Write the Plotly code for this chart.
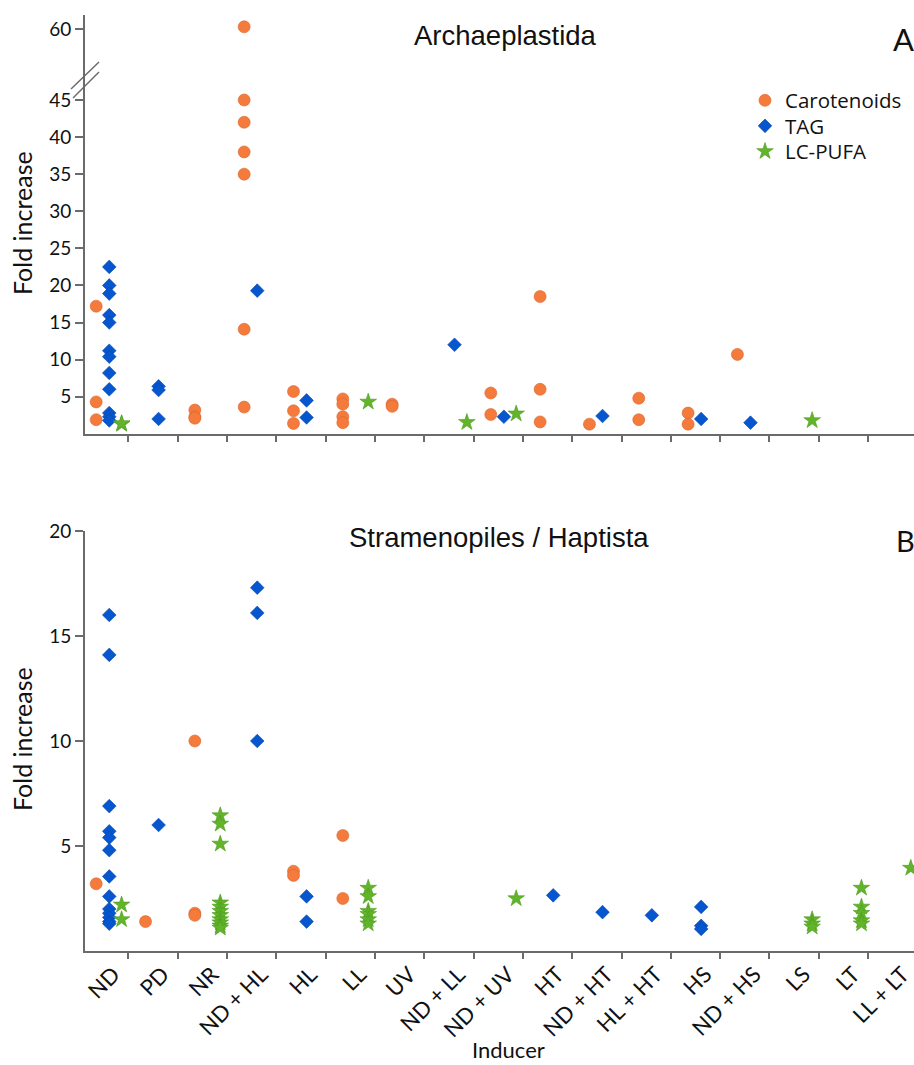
import plotly.graph_objects as go

# ---------------- data ----------------
categories = ["ND", "PD", "NR", "ND + HL", "HL", "LL", "UV", "ND + LL", "ND + UV",
              "HT", "ND + HT", "HL + HT", "HS", "ND + HS", "LS", "LT", "LL + LT"]

# Panel A: Archaeplastida (values per category, same order as categories)
a_carotenoids = [[17.2, 4.3, 1.9], [], [3.2, 2.3, 2.1], [60.5, 45.0, 42.0, 38.0, 35.0, 14.1, 3.6],
                 [5.7, 3.1, 1.4], [4.7, 4.0, 2.3, 1.5], [4.0, 3.7], [], [5.5, 2.6],
                 [18.5, 6.0, 1.6], [1.3], [4.8, 1.9], [2.8, 1.3], [10.7], [], [], []]
a_tag = [[22.5, 20.0, 18.9, 16.0, 15.0, 11.2, 10.4, 8.2, 6.0, 2.8, 2.3, 1.8], [6.4, 5.9, 2.0], [],
         [19.3], [4.5, 2.2], [], [], [12.0], [2.3], [], [2.4], [], [2.0], [1.5], [], [], []]
a_pufa = [[1.3, 1.4], [], [], [], [], [4.3], [], [1.55], [2.7], [], [], [], [], [], [1.8], [], []]

# Panel B: Stramenopiles / Haptista
b_carotenoids = [[3.2], [1.4], [10.0, 1.8, 1.7], [], [3.8, 3.6], [5.5, 2.5], [], [], [],
                 [], [], [], [], [], [], [], []]
b_tag = [[16.0, 14.1, 6.9, 5.7, 5.4, 4.8, 3.55, 2.6, 2.0, 1.8, 1.6, 1.4, 1.3], [6.0], [],
         [17.3, 16.1, 10.0], [2.6, 1.4], [], [], [], [], [2.65], [1.85], [1.7],
         [2.1, 1.2, 1.05], [], [], [], []]
b_pufa = [[2.2, 1.5], [], [6.45, 6.05, 5.1, 2.3, 2.1, 1.9, 1.7, 1.5, 1.35, 1.2, 1.1], [], [],
          [3.0, 2.6, 1.9, 1.75, 1.5, 1.3], [], [], [2.5], [], [], [], [], [],
          [1.5, 1.3, 1.15], [3.0, 2.1, 1.8, 1.45, 1.3], [3.95]]

series_names = ["Carotenoids", "TAG", "LC-PUFA"]
panel_a = [a_carotenoids, a_tag, a_pufa]
panel_b = [b_carotenoids, b_tag, b_pufa]

y_ticks_a_low = [5, 10, 15, 20, 25, 30, 35, 40, 45]
y_ticks_a_high = [60]
y_ticks_b = [5, 10, 15, 20]

# ---------------- styles ----------------
colors = {"Carotenoids": "#F57B3D", "TAG": "#0656CF", "LC-PUFA": "#62B52A"}
edges = {"Carotenoids": "#D9652A", "TAG": "#0846A8", "LC-PUFA": "#4C9A1C"}
symbols = {"Carotenoids": "circle", "TAG": "diamond", "LC-PUFA": "star"}
sizes = {"Carotenoids": 12, "TAG": 10.5, "LC-PUFA": 12.5}
offsets = {"Carotenoids": -0.15, "TAG": 0.115, "LC-PUFA": 0.365}
legend_ids = {"Carotenoids": "legend", "TAG": "legend2", "LC-PUFA": "legend3"}
legend_rows_px = {"Carotenoids": 100.5, "TAG": 126.0, "LC-PUFA": 151.5}

LOW_MAX = 45.7
HIGH_MIN = 46.1
HIGH_MAX = 63.0
X_RANGE = [-0.377, 16.43]
LABEL_SHIFT = 0.2   # rotated labels end a little right of the category centre

FONT = "Lato, 'Open Sans', sans-serif"
LEGEND_FONT = "'Open Sans', Lato, sans-serif"
TITLE_FONT = "Liberation Sans, Arial, sans-serif"
AXIS_COL = "#6B6B6B"

FIG_W, FIG_H = 914, 1065
PLOT_L, PLOT_R = 85.0, 914.0
PLOT_T, PLOT_B = 15.0, 951.0
PW, PH = PLOT_R - PLOT_L, PLOT_B - PLOT_T


def px_x(p):
    return (p - PLOT_L) / PW


def px_y(p):
    return (PLOT_B - p) / PH


def flatten(groups, offset, keep=lambda v: True):
    xs, ys = [], []
    for i, vals in enumerate(groups):
        for v in vals:
            if keep(v):
                xs.append(i + offset)
                ys.append(v)
    return xs, ys


def marker(name):
    return dict(symbol=symbols[name], size=sizes[name], color=colors[name],
                line=dict(width=0.6, color=edges[name]))


fig = go.Figure()

# Panel A, lower segment (legend shown here)
for name, groups in zip(series_names, panel_a):
    xs, ys = flatten(groups, offsets[name], lambda v: v <= LOW_MAX)
    fig.add_trace(go.Scatter(x=xs, y=ys, mode="markers", name=name, marker=marker(name),
                             xaxis="x", yaxis="y", cliponaxis=False, showlegend=True,
                             legend=legend_ids[name]))
# Panel A, upper segment (above the axis break)
for name, groups in zip(series_names, panel_a):
    xs, ys = flatten(groups, offsets[name], lambda v: v > LOW_MAX)
    if xs:
        fig.add_trace(go.Scatter(x=xs, y=ys, mode="markers", name=name, marker=marker(name),
                                 xaxis="x", yaxis="y3", cliponaxis=False, showlegend=False))
# Panel B
for name, groups in zip(series_names, panel_b):
    xs, ys = flatten(groups, offsets[name])
    fig.add_trace(go.Scatter(x=xs, y=ys, mode="markers", name=name, marker=marker(name),
                             xaxis="x2", yaxis="y2", cliponaxis=False, showlegend=False))

boundaries = [i + 0.5 for i in range(len(categories))]
label_pos = [i + LABEL_SHIFT for i in range(len(categories))]

common_axis = dict(showline=True, linecolor=AXIS_COL, linewidth=2, showgrid=False,
                   zeroline=False, ticks="outside", tickcolor=AXIS_COL, tickwidth=1.5,
                   tickfont=dict(family=FONT, size=19, color="#111"))

dom_a_low = [px_y(433.8), px_y(94.8)]
dom_a_high = [px_y(94.8), 1.0]
dom_b = [0.0, px_y(531.0)]

legend_common = dict(xanchor="left", yanchor="middle",
                     font=dict(family=LEGEND_FONT, size=20.5, color="#111"),
                     bgcolor="rgba(0,0,0,0)", borderwidth=0)
legends = {}
for name in series_names:
    legends[legend_ids[name]] = dict(legend_common, x=px_x(745), y=px_y(legend_rows_px[name]))

fig.update_layout(
    width=FIG_W, height=FIG_H,
    margin=dict(l=PLOT_L, r=FIG_W - PLOT_R, t=PLOT_T, b=FIG_H - PLOT_B, autoexpand=False),
    paper_bgcolor="white", plot_bgcolor="white",
    font=dict(family=FONT, color="#111"),
    xaxis=dict(common_axis, domain=[0, 1], anchor="y", range=X_RANGE,
               tickmode="array", tickvals=boundaries, showticklabels=False, ticklen=6),
    yaxis=dict(common_axis, domain=dom_a_low, anchor="x", range=[0, LOW_MAX],
               tickmode="array", tickvals=y_ticks_a_low, ticklen=8),
    yaxis3=dict(common_axis, domain=dom_a_high, anchor="x", range=[HIGH_MIN, HIGH_MAX],
                tickmode="array", tickvals=y_ticks_a_high, ticklen=8),
    xaxis2=dict(common_axis, domain=[0, 1], anchor="y2", range=X_RANGE,
                tickmode="array", tickvals=label_pos, ticktext=categories,
                tickangle=-45, ticks="", ticklen=0, ticklabelstandoff=0,
                tickfont=dict(family=FONT, size=22, color="#111"),
                minor=dict(tickmode="array", tickvals=boundaries, ticks="outside",
                           ticklen=6, tickcolor=AXIS_COL, tickwidth=1.5)),
    yaxis2=dict(common_axis, domain=dom_b, anchor="x2", range=[0, 20.0],
                tickmode="array", tickvals=y_ticks_b, ticklen=8),
    showlegend=True,
    **legends,
)

annotations = [
    dict(text="Archaeplastida", x=px_x(505), y=px_y(35.5), xanchor="center", yanchor="middle",
         font=dict(family=TITLE_FONT, size=27.5, color="#111")),
    dict(text="Stramenopiles / Haptista", x=px_x(498.5), y=px_y(537.0), xanchor="center",
         yanchor="middle", font=dict(family=TITLE_FONT, size=27.5, color="#111")),
    dict(text="A", x=px_x(891), y=px_y(38.5), xanchor="left", yanchor="middle",
         font=dict(family=FONT, size=31, color="#111")),
    dict(text="B", x=px_x(894), y=px_y(540), xanchor="left", yanchor="middle",
         font=dict(family=FONT, size=29, color="#111")),
    dict(text="Fold increase", x=px_x(22), y=px_y(223), textangle=-90, xanchor="center",
         yanchor="middle", font=dict(family=FONT, size=25, color="#111")),
    dict(text="Fold increase", x=px_x(22), y=px_y(739), textangle=-90, xanchor="center",
         yanchor="middle", font=dict(family=FONT, size=25, color="#111")),
    dict(text="Inducer", x=px_x(508), y=px_y(1049), xanchor="center", yanchor="middle",
         font=dict(family=FONT, size=22, color="#111")),
]
for a in annotations:
    a.update(xref="paper", yref="paper", showarrow=False)
fig.update_layout(annotations=annotations)

# axis-break marks on the top y axis
for (x0, y0, x1, y1) in [(71, 89, 99, 62), (73, 98, 99, 72)]:
    fig.add_shape(type="line", xref="paper", yref="paper",
                  x0=px_x(x0), y0=px_y(y0), x1=px_x(x1), y1=px_y(y1),
                  line=dict(color=AXIS_COL, width=1.5))

# remove the browser's default 8 px page margin so the figure fills the window exactly
fig.write_html("out.html", config={"displayModeBar": False},
               post_script="document.body.style.margin='0px';document.body.style.overflow='hidden';")
